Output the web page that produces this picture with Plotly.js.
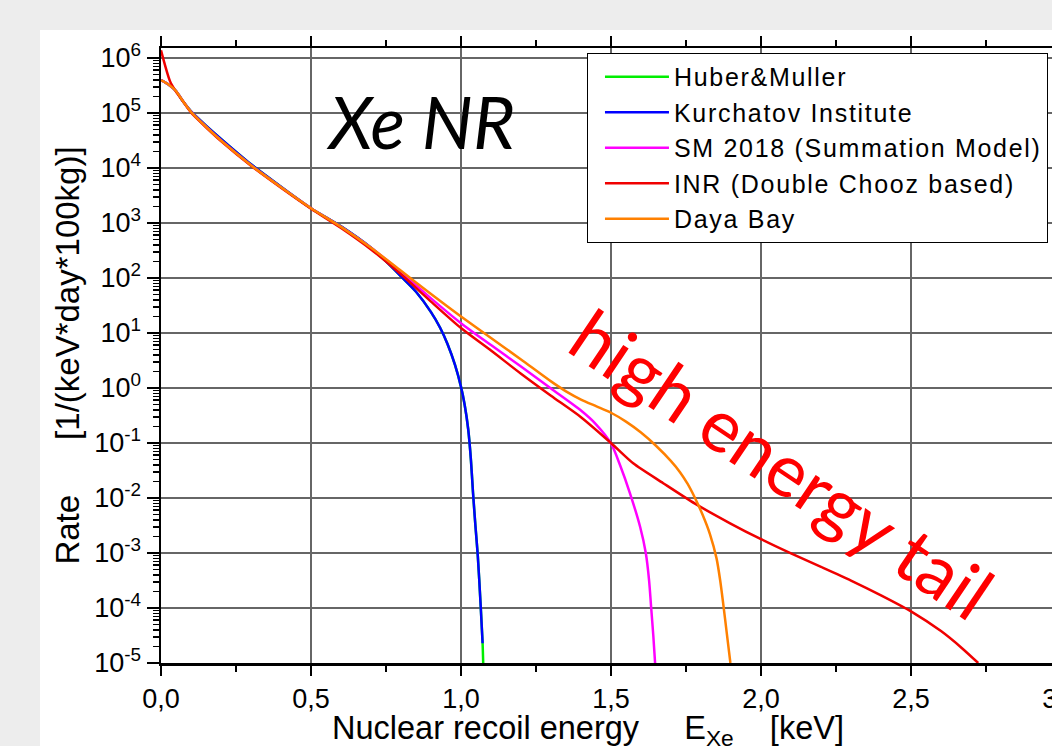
<!DOCTYPE html>
<html><head><meta charset="utf-8">
<script src="https://cdn.plot.ly/plotly-3.0.1.min.js"></script>
<style>
html,body{margin:0;padding:0;background:#ededed;overflow:hidden;width:1052px;height:746px;}
#chart{position:absolute;left:40px;top:30px;width:1080px;height:716px;}
.legendtext{letter-spacing:1.7px;}
</style></head><body><div id="chart"></div>
<script>
// Nuclear recoil energy [keV] and rate [1/(keV*day*100kg)] per model
const E_huber = [0,0.025,0.05,0.075,0.1,0.15,0.2,0.3,0.4,0.5,0.6,0.7,0.75,0.8,0.85,0.9,0.93,0.955,0.98,1.0,1.012,1.024,1.033,1.04,1.048,1.056,1.065,1.072,1.074];
const R_huber = [3.98e5,3.31e5,2.51e5,1.58e5,1.07e5,5.9e4,3.39e4,1.17e4,4.57e3,1.86e3,871,355,200,107,56.2,24.0,12.6,6.31,2.63,1.05,0.5,0.178,0.05,0.0126,3.16e-3,8.9e-4,1.26e-4,2.29e-5,1.0e-5];

const E_kurch = [0,0.025,0.05,0.075,0.1,0.15,0.2,0.3,0.4,0.5,0.6,0.7,0.75,0.8,0.85,0.9,0.93,0.955,0.98,1.0,1.012,1.024,1.033,1.04,1.048,1.056,1.065,1.072];
const R_kurch = [3.98e5,3.31e5,2.51e5,1.58e5,1.07e5,5.9e4,3.39e4,1.17e4,4.57e3,1.86e3,871,355,200,107,56.2,24.0,12.6,6.31,2.63,1.05,0.5,0.178,0.05,0.0126,3.16e-3,8.9e-4,1.26e-4,2.29e-5];

const E_sm = [0,0.025,0.05,0.075,0.1,0.15,0.2,0.3,0.4,0.5,0.6,0.7,0.8,0.9,1.0,1.1,1.2,1.3,1.4,1.45,1.5,1.53,1.563,1.597,1.616,1.627,1.634,1.641,1.647];
const R_sm = [3.98e5,3.31e5,2.51e5,1.58e5,1.05e5,5.62e4,3.16e4,1.12e4,4.47e3,1.86e3,851,355,129,42.7,15.1,6.03,2.45,0.977,0.389,0.219,0.098,0.0398,0.0123,3.0e-3,1.0e-3,3.16e-4,1.0e-4,3.16e-5,1.0e-5];

const E_inr = [0,0.03,0.05,0.075,0.1,0.15,0.2,0.3,0.4,0.5,0.6,0.7,0.8,0.9,1.0,1.1,1.2,1.3,1.4,1.5,1.574,1.674,1.78,1.897,2.0,2.1,2.2,2.3,2.4,2.5,2.6,2.67,2.724];
const R_inr = [1.38e6,3.8e5,2.45e5,1.58e5,1.02e5,5.5e4,3.09e4,1.1e4,4.37e3,1.82e3,813,331,117,37.2,12.3,4.79,1.82,0.724,0.295,0.1,0.0427,0.0186,7.9e-3,3.47e-3,1.78e-3,9.8e-4,5.6e-4,3.16e-4,1.7e-4,8.7e-5,3.8e-5,1.86e-5,1.0e-5];

const E_daya = [0,0.025,0.05,0.075,0.1,0.15,0.2,0.3,0.4,0.5,0.6,0.7,0.8,0.9,1.0,1.1,1.2,1.3,1.35,1.4,1.45,1.5,1.55,1.6,1.65,1.7,1.73,1.755,1.78,1.805,1.83,1.852,1.864,1.874,1.886,1.898];
const R_daya = [3.98e5,3.31e5,2.51e5,1.58e5,1.05e5,5.62e4,3.16e4,1.12e4,4.47e3,1.86e3,851,355,135,51.3,20.0,8.13,3.31,1.32,0.87,0.617,0.468,0.355,0.245,0.155,0.0891,0.0468,0.0295,0.0182,0.01,5.0e-3,2.19e-3,7.9e-4,3.16e-4,1.2e-4,3.47e-5,1.0e-5];

const seriesNames = ["Huber&Muller","Kurchatov Institute","SM 2018 (Summation Model)","INR (Double Chooz based)","Daya Bay"];
const seriesColors = ["#00ee00","#0000ff","#ff00ff","#f00000","#ff8000"];

const xTickVals = [0,0.5,1.0,1.5,2.0,2.5,3.0];
const xTickText = ["0,0","0,5","1,0","1,5","2,0","2,5","3,0"];
const yExponents = [-5,-4,-3,-2,-1,0,1,2,3,4,5,6];
const yTickVals = yExponents.map(e => Math.pow(10, e));
const yTickText = yExponents.map(e => "10<sup>" + e + "</sup>");

const xs = [E_huber,E_kurch,E_sm,E_inr,E_daya];
const ys = [R_huber,R_kurch,R_sm,R_inr,R_daya];
const traces = seriesNames.map((n,i) => ({
  x: xs[i], y: ys[i], name: n, type: 'scatter', mode: 'lines',
  line: {color: seriesColors[i], width: 2.5, shape: 'spline', smoothing: 0.7}
}));

const NB = "\u00a0";
const layout = {
  width: 1080, height: 716,
  margin: {l: 121, r: 59, t: 18, b: 83},
  paper_bgcolor: '#ffffff', plot_bgcolor: '#ffffff',
  font: {family: 'Liberation Sans, Arial, sans-serif', color: '#000'},
  showlegend: true,
  legend: {
    x: 0.4733, y: 0.992, xanchor: 'left', yanchor: 'top',
    bgcolor: '#ffffff', bordercolor: '#000', borderwidth: 1,
    font: {size: 25, family: 'Liberation Sans, Arial, sans-serif', color: '#000'},
    itemwidth: 64, indentation: 12
  },
  xaxis: {
    range: [0, 3], autorange: false,
    tickvals: xTickVals, ticktext: xTickText,
    ticks: 'outside', ticklen: 10, tickwidth: 2, tickcolor: '#000',
    showline: true, linecolor: '#000', linewidth: 2.5, mirror: 'ticks',
    showgrid: true, gridcolor: '#666', gridwidth: 1.2, zeroline: false,
    tickfont: {size: 27},
    minor: {dtick: 0.25, tick0: 0, ticks: 'outside', ticklen: 6, tickwidth: 2, tickcolor: '#000', showgrid: false}
  },
  yaxis: {
    type: 'log', range: [-5, 6.182], autorange: false,
    tickvals: yTickVals, ticktext: yTickText,
    ticks: 'outside', ticklen: 12, tickwidth: 2, tickcolor: '#000',
    showline: true, linecolor: '#000', linewidth: 2.5,
    showgrid: true, gridcolor: '#666', gridwidth: 1.2, zeroline: false,
    tickfont: {size: 27},
    minor: {dtick: 'D1', ticks: 'outside', ticklen: 6, tickwidth: 1.5, tickcolor: '#000', showgrid: false},
    title: {text: 'Rate' + NB.repeat(6) + '[1/(keV*day*100kg)]', font: {size: 33}, standoff: 5}
  },
  annotations: [
    {xref: 'paper', yref: 'paper', x: 0.2878, y: 0.881, xanchor: 'center', yanchor: 'middle',
     text: 'Xe NR', showarrow: false,
     font: {family: 'Lato, sans-serif', size: 72, style: 'italic', color: '#000'}},
    {xref: 'paper', yref: 'paper', x: 0.69, y: 0.325, xanchor: 'center', yanchor: 'middle',
     text: 'high energy tail', showarrow: false, textangle: 34,
     font: {family: 'Lato, sans-serif', size: 73, color: '#ff0000'}},
    {xref: 'paper', yref: 'paper', x: 0.1878, y: -0.1095, xanchor: 'left', yanchor: 'middle',
     text: 'Nuclear recoil energy' + NB.repeat(5) + 'E<sub>Xe</sub>' + NB.repeat(4) + '[keV]', showarrow: false,
     font: {family: 'Liberation Sans, Arial, sans-serif', size: 32.5, color: '#000'}}
  ]
};

Plotly.newPlot('chart', traces, layout, {displayModeBar: false, staticPlot: true});
</script></body></html>
